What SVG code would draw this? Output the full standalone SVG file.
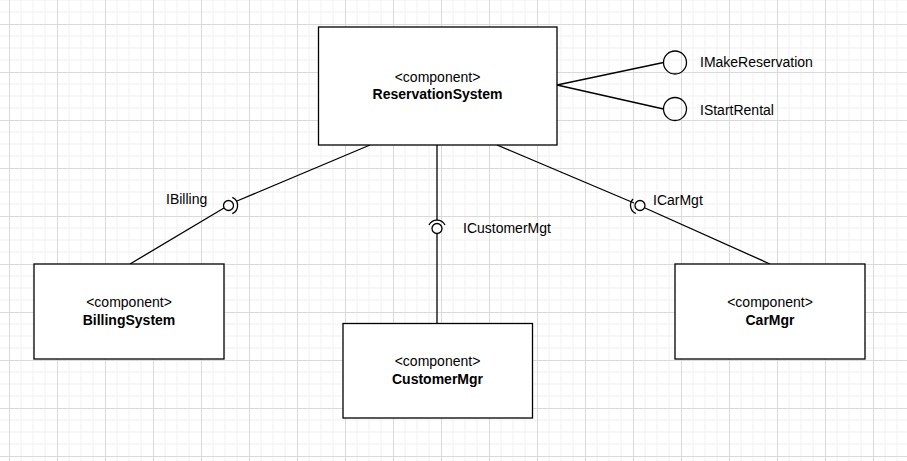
<svg xmlns="http://www.w3.org/2000/svg" width="907" height="461" viewBox="0 0 907 461">
<style>
.box{fill:#fff;stroke:#000;stroke-width:1.3}
.ln{fill:none;stroke:#000;stroke-width:1.3}
.st{font-family:"Liberation Sans",Arial,sans-serif;font-size:14px;fill:#000;text-anchor:middle}
.nm{font-family:"Liberation Sans",Arial,sans-serif;font-size:14px;font-weight:bold;fill:#000;text-anchor:middle}
.lb{font-family:"Liberation Sans",Arial,sans-serif;font-size:14px;fill:#000}
</style>
<defs>
<pattern id="grid" x="9" y="24" width="48" height="48" patternUnits="userSpaceOnUse">
<path d="M12 0V48M24 0V48M36 0V48M0 12H48M0 24H48M0 36H48" stroke="#f1f1f1" stroke-width="1" fill="none"/>
<path d="M0.5 0V48M0 0.5H48" stroke="#dadada" stroke-width="1" fill="none"/>
</pattern>
</defs>
<rect width="907" height="461" fill="#fff"/>
<rect width="907" height="461" fill="url(#grid)"/>
<g id="connectors">
<line class="ln" x1="557" y1="85" x2="663.5" y2="62.5"/>
<line class="ln" x1="557" y1="85" x2="663.5" y2="109"/>
<line class="ln" x1="130" y1="264" x2="224" y2="208"/>
<line class="ln" x1="370" y1="145" x2="237" y2="201"/>
<circle class="ln" cx="228.5" cy="205.5" r="5"/>
<path class="ln" d="M228.5 205.5 m3.8 -8.2 a9 9 0 0 1 0 16.4"/>
<line class="ln" x1="437" y1="145" x2="437" y2="220"/>
<line class="ln" x1="437" y1="233.5" x2="437" y2="323"/>
<circle class="ln" cx="437" cy="228.5" r="5"/>
<path class="ln" d="M429 225 a9 9 0 0 1 16 0"/>
<line class="ln" x1="497" y1="145" x2="634" y2="203"/>
<line class="ln" x1="645" y1="208" x2="770" y2="264"/>
<circle class="ln" cx="640" cy="205.5" r="5"/>
<path class="ln" d="M636 213.5 a9 9 0 0 1 -3 -14.5"/>
</g>
<g id="IMakeReservation">
<circle class="ln" cx="675" cy="62.5" r="11.5" fill="#fff"/>
<text class="lb" x="700" y="67">IMakeReservation</text>
</g>
<g id="IStartRental">
<circle class="ln" cx="675" cy="109" r="11.5" fill="#fff"/>
<text class="lb" x="700" y="115">IStartRental</text>
</g>
<g id="labels">
<text class="lb" x="166" y="204">IBilling</text>
<text class="lb" x="463" y="233">ICustomerMgt</text>
<text class="lb" x="653" y="205">ICarMgt</text>
</g>
<g id="ReservationSystem">
<rect class="box" x="318.5" y="27" width="238.5" height="118"/>
<text class="st" x="437.5" y="82">&lt;component&gt;</text>
<text class="nm" x="437.5" y="99">ReservationSystem</text>
</g>
<g id="BillingSystem">
<rect class="box" x="34" y="264" width="190" height="95"/>
<text class="st" x="129" y="307">&lt;component&gt;</text>
<text class="nm" x="129" y="325">BillingSystem</text>
</g>
<g id="CustomerMgr">
<rect class="box" x="343" y="323.5" width="189.5" height="94.5"/>
<text class="st" x="437.5" y="366">&lt;component&gt;</text>
<text class="nm" x="437.5" y="384">CustomerMgr</text>
</g>
<g id="CarMgr">
<rect class="box" x="675" y="264" width="190" height="95"/>
<text class="st" x="770" y="307">&lt;component&gt;</text>
<text class="nm" x="770" y="325">CarMgr</text>
</g>
</svg>
